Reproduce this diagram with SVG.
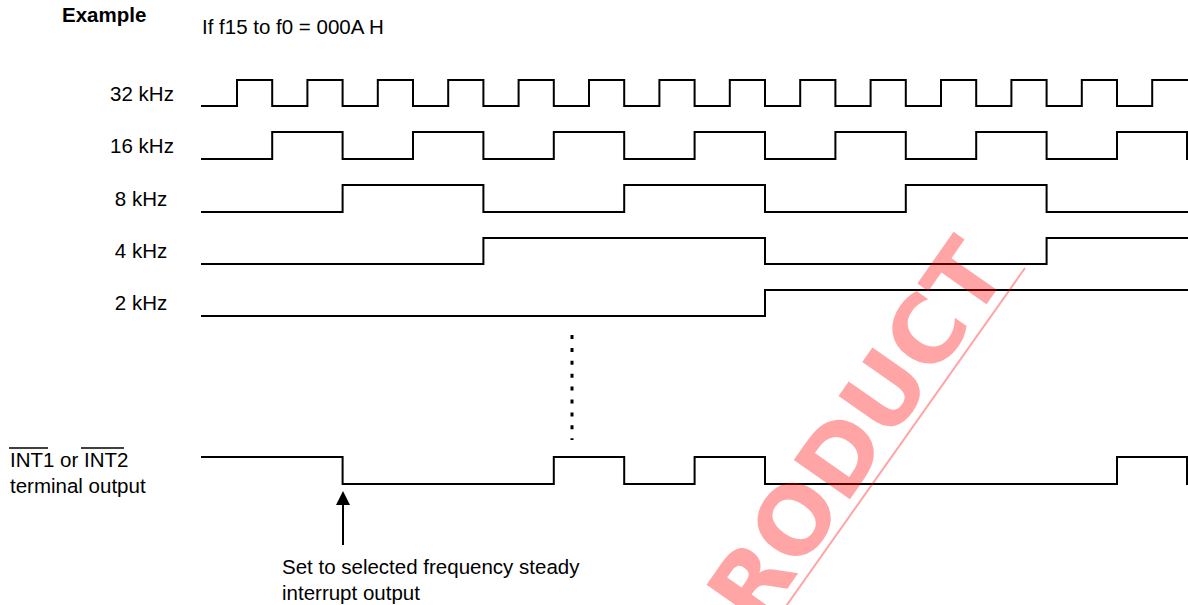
<svg xmlns="http://www.w3.org/2000/svg" width="1188" height="605" viewBox="0 0 1188 605">
<style>
  text { font-family: "Liberation Sans", Arial, sans-serif; font-size: 20.5px; fill: #000; }
  .lbl { text-anchor: middle; }
  .bold { font-weight: bold; }
  .wave { fill: none; stroke: #000; stroke-width: 2; stroke-linejoin: miter; stroke-linecap: square; }
  .ovl { stroke: #000; stroke-width: 1.3; }
  .wm { font-family: "DejaVu Sans", "Liberation Sans", sans-serif; font-weight: bold; font-size: 94px; fill: #ff0000; }
</style>
<rect width="1188" height="605" fill="#fff"/>

<g id="title">
  <text class="bold" x="62" y="22">Example</text>
  <text x="202" y="34">If f15 to f0 = 000A H</text>
</g>

<g id="sig-32khz">
  <text class="lbl" x="142" y="101">32 kHz</text>
  <path class="wave" d="M202,106 H237 V80 H272.2 V106 H307.4 V80 H342.6 V106 H377.8 V80 H413 V106 H448.2 V80 H483.4 V106 H518.6 V80 H553.8 V106 H589 V80 H624.2 V106 H659.4 V80 H694.6 V106 H729.8 V80 H765 V106 H800.2 V80 H835.4 V106 H870.6 V80 H905.8 V106 H941 V80 H976.2 V106 H1011.4 V80 H1046.6 V106 H1081.8 V80 H1117 V106 H1152.2 V80 H1188"/>
</g>

<g id="sig-16khz">
  <text class="lbl" x="142" y="153">16 kHz</text>
  <path class="wave" d="M202,159 H272.2 V132 H342.6 V159 H413 V132 H483.4 V159 H553.8 V132 H624.2 V159 H694.6 V132 H765 V159 H835.4 V132 H905.8 V159 H976.2 V132 H1046.6 V159 H1117 V132 H1187 V159"/>
</g>

<g id="sig-8khz">
  <text class="lbl" x="141" y="206">8 kHz</text>
  <path class="wave" d="M202,212 H342.6 V185 H483.4 V212 H624.2 V185 H765 V212 H905.8 V185 H1046.6 V212 H1188"/>
</g>

<g id="sig-4khz">
  <text class="lbl" x="141" y="258">4 kHz</text>
  <path class="wave" d="M202,264 H483.4 V238 H765 V264 H1046.6 V238 H1188"/>
</g>

<g id="sig-2khz">
  <text class="lbl" x="141" y="310">2 kHz</text>
  <path class="wave" d="M202,316 H765 V290 H1188"/>
</g>

<g id="sig-int">
  <text x="10" y="467">INT1 or INT2</text>
  <line class="ovl" x1="9" y1="448" x2="48" y2="448"/>
  <line class="ovl" x1="81" y1="448" x2="124" y2="448"/>
  <text x="10" y="493">terminal output</text>
  <path class="wave" d="M202,457 H342.6 V484 H553.8 V457 H624.2 V484 H694.6 V457 H765 V484 H1117 V457 H1187 V484"/>
</g>

<g id="note">
  <text x="282" y="574">Set to selected frequency steady</text>
  <text x="282" y="600">interrupt output</text>
</g>

<g id="connectors">
  <line x1="572" y1="335" x2="572" y2="440" stroke="#000" stroke-width="3" stroke-dasharray="4 8.9"/>
  <line x1="343" y1="545" x2="343" y2="504" stroke="#000" stroke-width="2"/>
  <path d="M343,491 L336,505 L350,505 Z" fill="#000"/>
</g>

<g id="watermark" opacity="0.35">
  <text class="wm" transform="translate(757.7,631) rotate(-55)">RODUCT</text>
  <line x1="1025" y1="268" x2="760" y2="643" stroke="#ff0000" stroke-width="2"/>
</g>
</svg>
